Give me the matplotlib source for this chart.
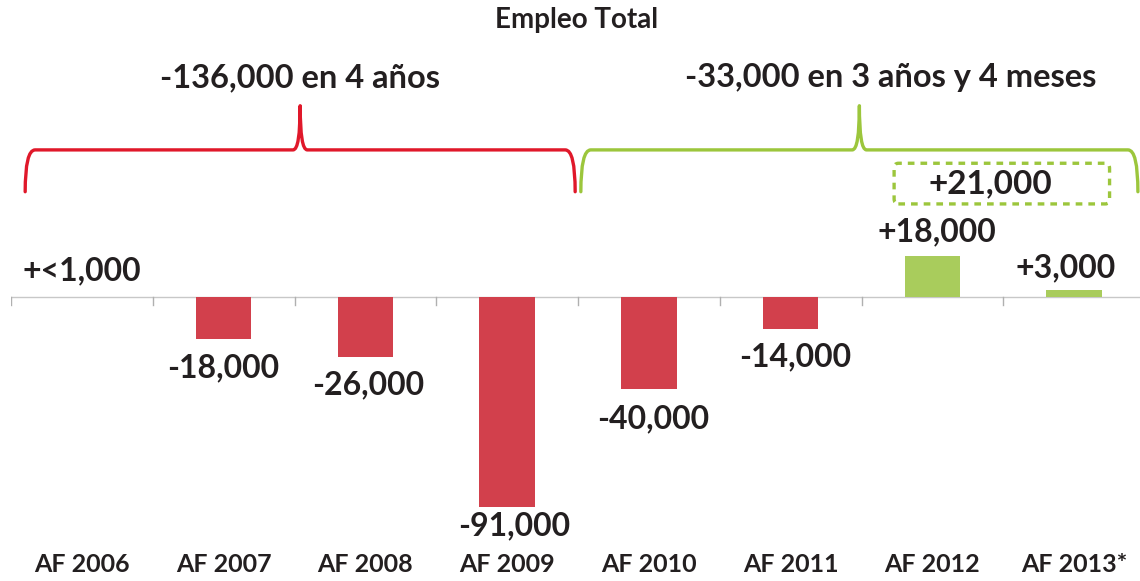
import matplotlib
matplotlib.use("Agg")
import matplotlib.pyplot as plt
from matplotlib.path import Path
from matplotlib.patches import PathPatch, FancyBboxPatch
import matplotlib.transforms as mtransforms

# ---- data ----
categories = ["AF 2006", "AF 2007", "AF 2008", "AF 2009", "AF 2010", "AF 2011", "AF 2012", "AF 2013*"]
values = [300, -18000, -26000, -91000, -40000, -14000, 18000, 3000]
value_labels = ["+<1,000", "-18,000", "-26,000", "-91,000", "-40,000", "-14,000", "+18,000", "+3,000"]
title = "Empleo Total"
group_labels = ["-136,000 en 4 años", "-33,000 en 3 años y 4 meses"]
recent_label = "+21,000"

# ---- style ----
RED_BAR = "#D2404C"
GREEN_BAR = "#A9CC5C"
RED_BRACE = "#E0182A"
GREEN_BRACE = "#9CC63C"
TXT = "#231F20"
FONT = ["Lato", "DejaVu Sans"]
plt.rcParams["font.family"] = FONT

fig = plt.figure(figsize=(11.4, 5.81), dpi=100)
ax = fig.add_axes([11 / 1140, 0, 1134 / 1140, 1])
ax.set_xlim(-0.5, len(categories) - 0.5)
ax.set_ylim(-122900, 128600)
ax.axis("off")

x = list(range(len(categories)))
colors = [RED_BAR if v < 0 else GREEN_BAR for v in values]
plot_vals = [v if abs(v) >= 1000 else 0 for v in values]
ax.bar(x, plot_vals, width=0.39, color=colors, zorder=3)

# baseline and separator ticks
ax.axhline(0, color="#C8C8C8", lw=1.0, zorder=2)
blend = mtransforms.blended_transform_factory(ax.transData, ax.transAxes)
for b in range(len(categories) + 1):
    ax.plot([b - 0.5, b - 0.5], [0, -3500], color="#B0B0B0", lw=1.0, zorder=2)

# value labels
label_offsets = [(0, 19), (0, -21), (2, -20), (5, -13), (3, -21), (3, -20), (3, 17), (-6, 16)]
for xi, v, lab, off in zip(x, plot_vals, value_labels, label_offsets):
    ax.annotate(lab, (xi, v), xytext=off, textcoords="offset points",
                ha="center", va="center", fontsize=23, color=TXT, fontweight="bold")

# category labels
for xi, c in zip(x, categories):
    ax.text(xi, 0.028, c, transform=blend, ha="center", va="center",
            fontsize=18, color=TXT, fontweight="bold")

# title
fig.text(0.506, 0.966, title, ha="center", va="center", fontsize=20,
         color=TXT, fontweight="bold")

# braces
def brace(x0, x1, color):
    mid = (x0 + x1) / 2
    y_end, y_h, y_pk = 0.670, 0.742, 0.818
    dx = 0.07
    dm = 0.05
    verts = [
        (x0, y_end), (x0, y_h), (x0 + dx, y_h),
        (mid - dm, y_h),
        (mid, y_h), (mid, y_pk),
        (mid, y_h), (mid + dm, y_h),
        (x1 - dx, y_h),
        (x1, y_h), (x1, y_end),
    ]
    codes = [Path.MOVETO, Path.CURVE3, Path.CURVE3, Path.LINETO,
             Path.CURVE3, Path.CURVE3, Path.CURVE3, Path.CURVE3,
             Path.LINETO, Path.CURVE3, Path.CURVE3]
    ax.add_patch(PathPatch(Path(verts, codes), transform=blend, fill=False,
                           edgecolor=color, lw=2.4, capstyle="round", joinstyle="round"))
    return mid

brace_colors = [RED_BRACE, GREEN_BRACE]
brace_extents = [(-0.40, 3.48), (3.52, 7.45)]
label_shift = [0.0, 0.22]
for (bx0, bx1), col, glab, sh in zip(brace_extents, brace_colors, group_labels, label_shift):
    m = brace(bx0, bx1, col)
    ax.text(m + sh, 0.866, glab, transform=blend,
            ha="center", va="center", fontsize=23.5, color=TXT, fontweight="bold")

# dashed box for recent gain
box = FancyBboxPatch((5.73, 0.649), 1.52, 0.070, transform=blend,
                     boxstyle="round,pad=0,rounding_size=0.03",
                     fill=False, edgecolor=GREEN_BRACE, lw=2.4,
                     linestyle=(0, (2.0, 1.8)), mutation_aspect=0.3)
ax.add_patch(box)
ax.text(6.41, 0.683, recent_label, transform=blend, ha="center", va="center",
        fontsize=24, color=TXT, fontweight="bold")

fig.savefig("out.png", dpi=100)
